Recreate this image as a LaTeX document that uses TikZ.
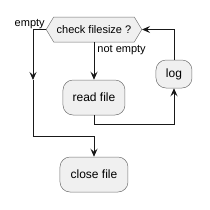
\documentclass[tikz,border=0pt]{standalone}
\usepackage{fontspec}
\setmainfont{Liberation Sans}
\usetikzlibrary{arrows.meta,shapes.symbols}

\tikzset{
  act/.style={draw=black!55,fill=black!6,line width=0.5pt,rounded corners=10pt,
    font=\fontsize{12}{14}\selectfont,inner sep=0pt},
  cond/.style={signal,signal to=west and east,signal pointer angle=118,
    draw=black!55,fill=black!6,line width=0.5pt,minimum height=25pt,
    inner xsep=3pt,inner ysep=0pt,font=\fontsize{11}{13}\selectfont},
  flow/.style={draw=black!90,line width=0.9pt,-{Stealth[length=8pt,width=7pt,inset=3pt]}},
  link/.style={draw=black!90,line width=0.9pt},
  lbl/.style={font=\fontsize{11}{13}\selectfont,inner sep=1pt}
}

\begin{document}
\begin{tikzpicture}[x=1pt,y=-1pt]
\useasboundingbox (0,0) rectangle (210,210);

\node[cond] (check) at (94,29.5) {check filesize ?};
\node[act,minimum width=62pt,minimum height=35pt] (read) at (94,97.5) {read file};
\node[act,minimum width=36pt,minimum height=28pt] (log) at (174,74) {log};
\node[act,minimum width=68pt,minimum height=35pt] (close) at (94,174.5) {close file};

\coordinate (mid) at (33,80);
\coordinate (join) at (33,136);

% not empty branch
\draw[flow] (check.south) -- (read.north)
  node[lbl,anchor=north west,pos=0.05,xshift=2pt] {not empty};
\draw[flow] (read.south) -- ++(0,9) -| (log.south);
\draw[flow] (log.north) |- (check.east);

% empty branch
\draw[flow] (check.west) -| (mid);
\node[lbl,anchor=south east] (empty) at (check.west) {empty};
\draw[link] (mid) -- (join);
\draw[flow] (join) -| (close.north);
\end{tikzpicture}
\end{document}
